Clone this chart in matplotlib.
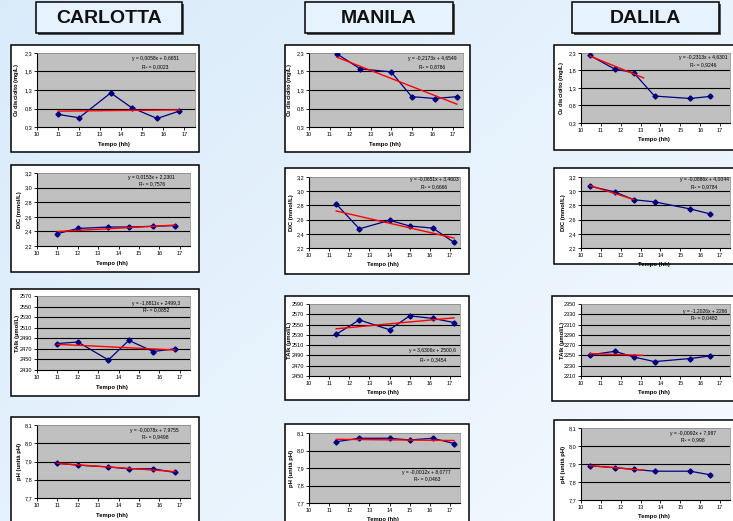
import matplotlib
matplotlib.use("Agg")
import matplotlib.pyplot as plt
import numpy as np
from matplotlib.patches import Rectangle

plt.rcParams["font.family"] = ["Liberation Sans", "DejaVu Sans"]
plt.rcParams["mathtext.default"] = "regular"

W, H = 733, 521

# Sampling times (hours) for each lagoon station
carlotta_time = [11.0, 12.0, 13.5, 14.5, 15.7, 16.75]
manila_time = [11.35, 12.5, 14.0, 15.0, 16.15, 17.2]
dalila_time = [10.45, 11.7, 12.65, 13.7, 15.5, 16.5]

# Dissolved O2 (mg/L)
carlotta_o2 = [0.64, 0.55, 1.22, 0.82, 0.53, 0.73]
manila_o2 = [2.28, 1.87, 1.79, 1.12, 1.07, 1.12]
dalila_o2 = [2.23, 1.84, 1.74, 1.07, 1.00, 1.06]

# DIC (mmol/L)
carlotta_dic = [2.37, 2.44, 2.46, 2.46, 2.47, 2.48]
manila_dic = [2.82, 2.47, 2.59, 2.51, 2.48, 2.28]
dalila_dic = [3.07, 2.99, 2.88, 2.85, 2.75, 2.68]

# Total alkalinity (umol/L)
carlotta_talk = [2480, 2483, 2449, 2486, 2465, 2470]
manila_talk = [2531, 2559, 2540, 2567, 2562, 2554]
dalila_talk = [2251, 2258, 2247, 2238, 2244, 2249]

# pH
carlotta_ph = [7.89, 7.88, 7.87, 7.86, 7.86, 7.84]
manila_ph = [8.05, 8.07, 8.07, 8.06, 8.07, 8.04]
dalila_ph = [7.89, 7.88, 7.87, 7.86, 7.86, 7.84]

# Linear trendlines: slope, intercept, R^2
carlotta_trend = [(0.0058, 0.6651, 0.0023), (0.0153, 2.2301, 0.7576),
                  (-1.8811, 2499.3, 0.0852), (-0.0078, 7.9755, 0.9498)]
manila_trend = [(-0.2173, 4.6549, 0.8786), (-0.0651, 3.4603, 0.6666),
                (3.6306, 2500.6, 0.3454), (-0.0012, 8.0777, 0.0463)]
dalila_trend = [(-0.2313, 4.6301, 0.9246), (-0.0886, 4.0044, 0.9784),
                (-1.2026, 2266, 0.0482), (-0.0092, 7.987, 0.998)]

# Dalila trendlines use only the first three samples, with a forward projection
dalila_fit_n = 3
dalila_forward = [0.5, 0.0, 0.45, 0.5]

site_names = ["CARLOTTA", "MANILA", "DALILA"]
times = [carlotta_time, manila_time, dalila_time]
series = [
    [carlotta_o2, carlotta_dic, carlotta_talk, carlotta_ph],
    [manila_o2, manila_dic, manila_talk, manila_ph],
    [dalila_o2, dalila_dic, dalila_talk, dalila_ph],
]
trends = [carlotta_trend, manila_trend, dalila_trend]

ylabels = ["O$_2$ disciolto (mg/L)", "DIC (mmol/L)", "TAlk (µmol/L)", "pH (unità pH)"]
o2_ticks = [0.3, 0.8, 1.3, 1.8, 2.3]
dic_ticks = [2.2, 2.4, 2.6, 2.8, 3.0, 3.2]
ph_ticks = [7.7, 7.8, 7.9, 8.0, 8.1]
talk_ticks = [
    list(range(2430, 2571, 20)),
    list(range(2450, 2591, 20)),
    list(range(2210, 2351, 20)),
]
x_ticks = list(range(10, 18))

# --- layout in pixels (x0, y0, x1, y1), y from the top ---
title_boxes = [(36, 2, 182, 33), (305, 2, 453, 33), (572, 2, 719, 33)]
panels = [
    [(11, 45, 199, 152), (11, 165, 199, 272), (11, 289, 199, 396), (11, 417, 199, 560)],
    [(285, 45, 470, 152), (285, 168, 469, 274), (285, 296, 469, 400), (285, 424, 469, 560)],
    [(554, 45, 740, 150), (554, 168, 740, 264), (552, 296, 740, 401), (554, 420, 740, 560)],
]
plot_areas = [
    [(37, 53, 195, 127), (37, 173, 190, 246), (37, 296, 190, 370), (37, 425, 190, 498)],
    [(309, 53, 463, 127), (309, 177, 460, 248), (309, 304, 460, 376), (309, 433, 460, 503)],
    [(581, 53, 730, 123), (581, 177, 730, 248), (581, 304, 730, 376), (581, 428, 730, 500)],
]
# equation anchor (axes fraction): x centre, y of equation, y of R^2
eq_pos = [
    [(0.75, 0.92, 0.82), (0.75, 0.94, 0.85), (0.78, 0.90, 0.81), (0.77, 0.93, 0.84)],
    [(0.80, 0.92, 0.82), (0.83, 0.97, 0.86), (0.82, 0.35, 0.23), (0.78, 0.44, 0.34)],
    [(0.82, 0.93, 0.83), (0.83, 0.97, 0.86), (0.83, 0.89, 0.81), (0.75, 0.93, 0.84)],
]


def px_rect(box):
    x0, y0, x1, y1 = box
    return [x0 / W, 1 - y1 / H, (x1 - x0) / W, (y1 - y0) / H]


def comma(v, fmt):
    return format(v, fmt).replace(".", ",")


fig = plt.figure(figsize=(W / 100, H / 100), dpi=100)

# gradient background
bg = fig.add_axes([0, 0, 1, 1], zorder=-5)
gx, gy = np.meshgrid(np.linspace(0, 1, 200), np.linspace(0, 1, 150))
g = np.clip(0.55 * gx + 0.45 * gy, 0, 1)
c0 = np.array([0.85, 0.92, 0.98])
c1 = np.array([0.96, 0.98, 1.0])
img = c0[None, None, :] * (1 - g[..., None]) + c1[None, None, :] * g[..., None]
bg.imshow(img, extent=[0, W, H, 0], aspect="auto", interpolation="bilinear")
bg.set_xlim(0, W)
bg.set_ylim(H, 0)
bg.axis("off")

for name, (x0, y0, x1, y1) in zip(site_names, title_boxes):
    bg.add_patch(Rectangle((x0 + 2, y0 + 2), x1 - x0, y1 - y0,
                           facecolor="#555555", edgecolor="none"))
    bg.add_patch(Rectangle((x0, y0), x1 - x0, y1 - y0,
                           facecolor="#e6f2fd", edgecolor="black", linewidth=1.1))
    bg.text((x0 + x1) / 2, (y0 + y1) / 2 + 1, name, ha="center", va="center",
            fontsize=14, fontweight="bold", color="#111111")

for s in range(3):
    t = np.array(times[s])
    for r in range(4):
        x0, y0, x1, y1 = panels[s][r]
        bg.add_patch(Rectangle((x0, y0), x1 - x0, y1 - y0,
                               facecolor="white", edgecolor="black", linewidth=1.1))

        ax = fig.add_axes(px_rect(plot_areas[s][r]))
        ax.set_facecolor("#c0c0c0")
        y = np.array(series[s][r])

        if r == 0:
            ticks = o2_ticks
            fmt = ".1f"
        elif r == 1:
            ticks = dic_ticks
            fmt = ".1f"
        elif r == 2:
            ticks = talk_ticks[s]
            fmt = ".0f"
        else:
            ticks = ph_ticks
            fmt = ".1f"

        ax.set_ylim(ticks[0], ticks[-1])
        ax.set_yticks(ticks)
        ax.set_yticklabels([comma(v, fmt) for v in ticks])
        ax.set_xlim(10, 17.5)
        ax.set_xticks(x_ticks)
        ax.set_xticklabels([str(v) for v in x_ticks])

        for v in ticks[1:-1]:
            ax.axhline(v, color="black", linewidth=0.8, zorder=1)

        ax.plot(t, y, color="#000080", linewidth=0.9, marker="D",
                markersize=2.6, zorder=3)

        slope, icpt, r2 = trends[s][r]
        if s == 2:
            tx = np.array([t[0], t[dalila_fit_n - 1] + dalila_forward[r]])
        else:
            tx = np.array([t[0], t[-1]])
        ax.plot(tx, slope * tx + icpt, color="red", linewidth=1.0, zorder=4)

        ex, ey, ry = eq_pos[s][r]
        eq = f"y = {comma(slope, '.5g')}x + {comma(icpt, '.5g')}"
        ax.text(ex, ey, eq, transform=ax.transAxes, ha="center", va="center",
                fontsize=3.6, zorder=5)
        ax.text(ex, ry, f"R² = {comma(r2, '.4g')}", transform=ax.transAxes,
                ha="center", va="center", fontsize=3.6, zorder=5)

        for side in ("top", "right"):
            ax.spines[side].set_color("#808080")
            ax.spines[side].set_linewidth(0.5)
        for side in ("left", "bottom"):
            ax.spines[side].set_color("black")
            ax.spines[side].set_linewidth(0.8)
        ax.tick_params(length=2, width=0.6, pad=1.5, labelsize=4)

        ax.set_xlabel("Tempo (hh)", fontsize=4.2, fontweight="bold")
        ax.xaxis.set_label_coords(0.49, -0.2)
        ax.set_ylabel(ylabels[r], fontsize=4.2, fontweight="bold")
        ax.yaxis.set_label_coords(-0.11 if r == 2 else -0.1, 0.5)

fig.savefig("out.png", dpi=100)
